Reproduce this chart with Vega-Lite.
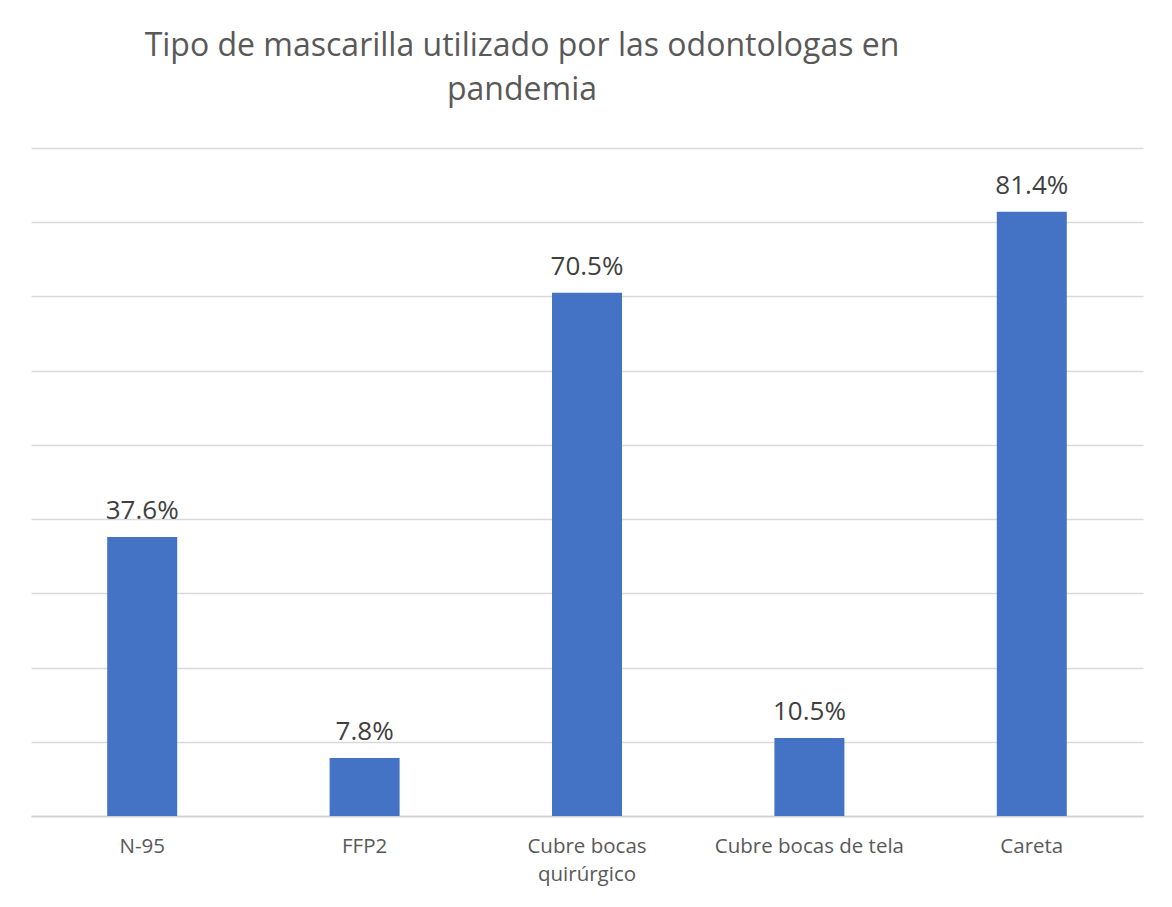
{
  "$schema": "https://vega.github.io/schema/vega-lite/v6.json",
  "width": 1112,
  "height": 668,
  "autosize": {"type": "none"},
  "padding": {"left": 31, "top": 148, "right": 29, "bottom": 91},
  "background": "white",
  "title": {
    "text": ["Tipo de mascarilla utilizado por las odontologas en", "pandemia"],
    "anchor": "middle",
    "dx": -65,
    "offset": 41,
    "font": "Open Sans",
    "fontSize": 32,
    "fontWeight": "normal",
    "color": "#595959",
    "lineHeight": 44
  },
  "data": {
    "values": [
      {"tipo": "N-95", "valor": 0.376},
      {"tipo": "FFP2", "valor": 0.078},
      {"tipo": "Cubre bocas quirúrgico", "valor": 0.705},
      {"tipo": "Cubre bocas de tela", "valor": 0.105},
      {"tipo": "Careta", "valor": 0.814}
    ]
  },
  "config": {"view": {"stroke": null}},
  "encoding": {
    "x": {
      "field": "tipo",
      "type": "nominal",
      "sort": null,
      "scale": {"paddingInner": 0, "paddingOuter": 0},
      "axis": {
        "title": null,
        "labelAngle": 0,
        "labelFont": "Open Sans",
        "labelFontSize": 20.5,
        "labelColor": "#595959",
        "labelPadding": 20,
        "labelLineHeight": 28,
        "labelLimit": 0,
        "ticks": false,
        "domainColor": "#d0d0d0",
        "domainWidth": 1.5,
        "labelExpr": "datum.label == 'Cubre bocas quirúrgico' ? ['Cubre bocas', 'quirúrgico'] : datum.label"
      }
    },
    "y": {
      "field": "valor",
      "type": "quantitative",
      "scale": {"domain": [0, 0.9], "nice": false},
      "axis": {
        "title": null,
        "labels": false,
        "ticks": false,
        "domain": false,
        "values": [0, 0.1, 0.2, 0.3, 0.4, 0.5, 0.6, 0.7, 0.8, 0.9],
        "gridColor": "#d9d9d9",
        "gridWidth": 1.5
      }
    }
  },
  "layer": [
    {"mark": {"type": "bar", "size": 70, "color": "#4472C4"}},
    {
      "mark": {
        "type": "text",
        "baseline": "alphabetic",
        "dy": -18,
        "font": "Open Sans",
        "fontSize": 26,
        "color": "#404040"
      },
      "encoding": {"text": {"field": "valor", "type": "quantitative", "format": ".1%"}}
    }
  ]
}
